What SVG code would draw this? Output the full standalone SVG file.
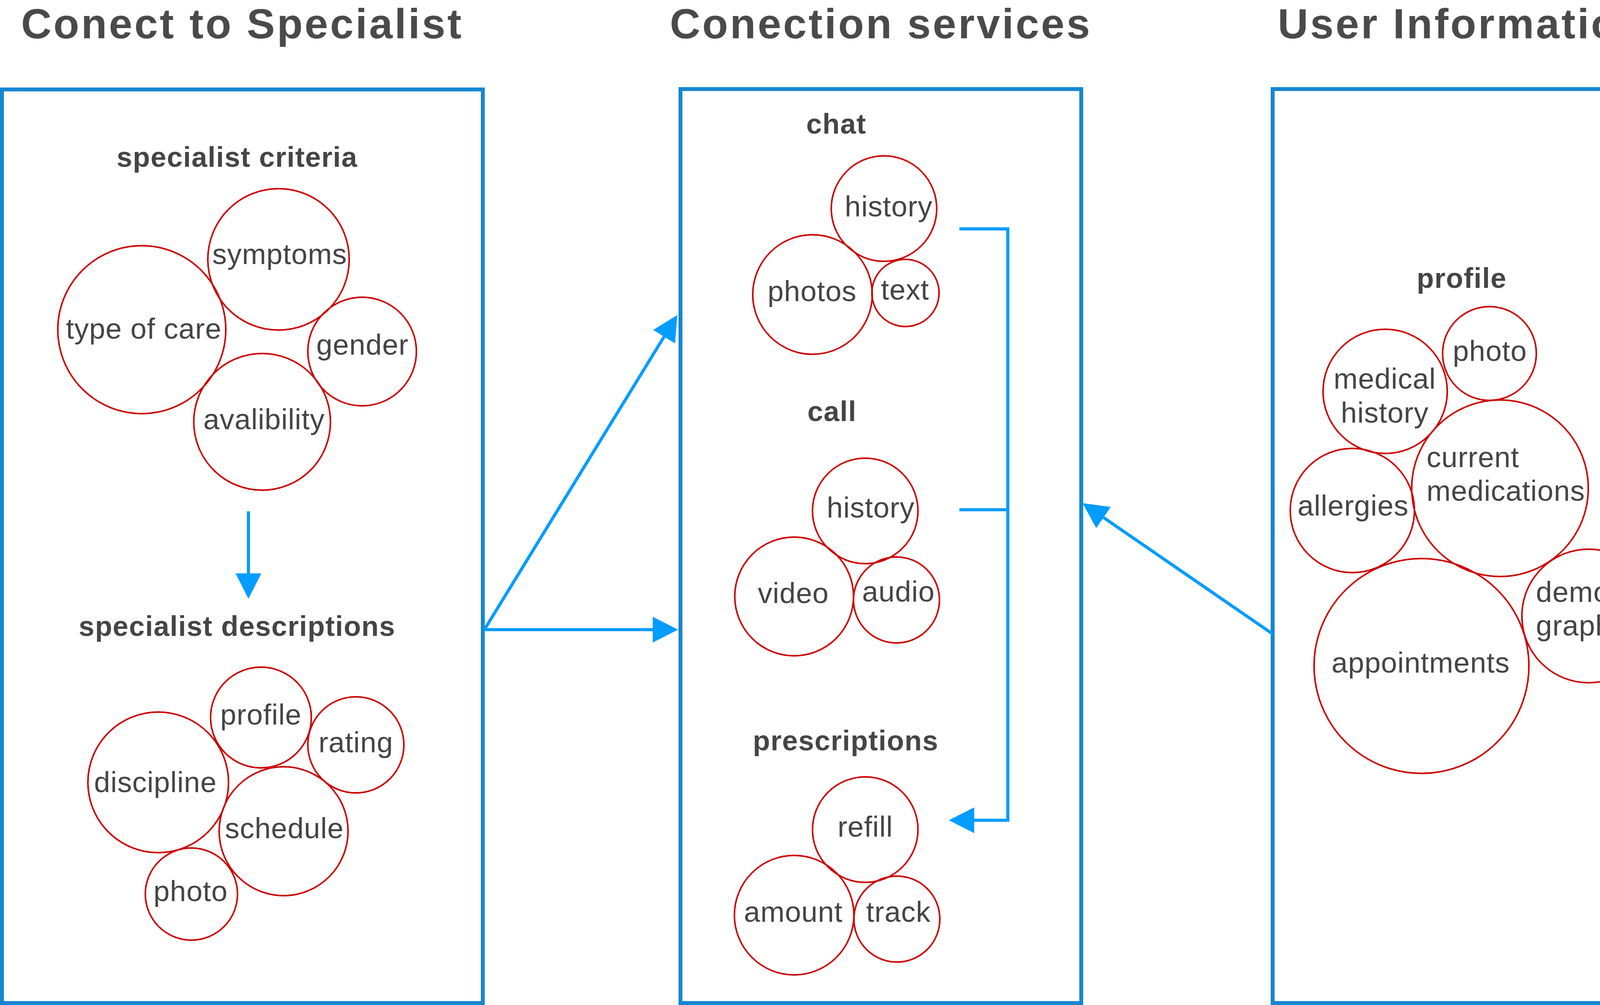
<svg xmlns="http://www.w3.org/2000/svg" width="5899" height="2573" viewBox="0 0 5899 2573">
<style>
.box{fill:none;stroke:#1586d1;stroke-width:10}
.ring{fill:none;stroke:#1586d1;stroke-width:10}
.c{fill:none;stroke:#cc0000;stroke-width:4}
text{font-family:"Liberation Sans",Arial,Helvetica,sans-serif;fill:#454545;text-anchor:middle}
.t{font-size:74px;letter-spacing:1px}
.l{text-anchor:start}
.h{font-size:72px;font-weight:bold;letter-spacing:1.5px}
.title{font-size:108px;font-weight:bold;letter-spacing:5px;fill:#4a4a4a}
.conn{fill:none;stroke:#039cff;stroke-width:8}
.head{fill:#039cff}
</style>
<defs>
<marker id="arr" markerUnits="userSpaceOnUse" viewBox="0 -33 65 66" refX="0" refY="0" markerWidth="65" markerHeight="66" orient="auto">
<path class="head" d="M0,-33 L65,0 L0,33 Z"/>
</marker>
</defs>
<rect width="5899" height="2573" fill="#ffffff"/>

<g id="titles">
<text class="title" x="620" y="98">Conect to Specialist</text>
<text class="title" x="2255" y="98">Conection services</text>
<text class="title" x="3743" y="98">User Information</text>
<text class="title" x="5293" y="98">options</text>
</g>

<g id="specialist-box">
<rect class="box" x="5" y="229" width="1231" height="2339"/>
<text class="h" x="607" y="427">specialist criteria</text>
<text class="h" x="607" y="1628">specialist descriptions</text>
</g>
<g id="n-symptoms"><circle class="c" cx="713" cy="664" r="181"/><text class="t" x="716" y="676">symptoms</text></g>
<g id="n-typeofcare"><circle class="c" cx="363" cy="844" r="215"/><text class="t" x="368" y="867">type of care</text></g>
<g id="n-gender"><circle class="c" cx="927" cy="900" r="139"/><text class="t" x="928" y="908">gender</text></g>
<g id="n-avalibility"><circle class="c" cx="671" cy="1080" r="175"/><text class="t" x="676" y="1099">avalibility</text></g>
<g id="n-profile"><circle class="c" cx="668" cy="1837" r="129"/><text class="t" x="668" y="1855">profile</text></g>
<g id="n-rating"><circle class="c" cx="911" cy="1907" r="123"/><text class="t" x="911" y="1926">rating</text></g>
<g id="n-discipline"><circle class="c" cx="405" cy="2003" r="180"/><text class="t" x="398" y="2028">discipline</text></g>
<g id="n-schedule"><circle class="c" cx="726" cy="2128" r="165"/><text class="t" x="728" y="2146">schedule</text></g>
<g id="n-photo1"><circle class="c" cx="490" cy="2289" r="118"/><text class="t" x="488" y="2307">photo</text></g>

<g id="services-box">
<rect class="box" x="1742" y="228" width="1026" height="2340"/>
<text class="h" x="2141" y="342">chat</text>
<text class="h" x="2130" y="1078">call</text>
<text class="h" x="2165" y="1921">prescriptions</text>
</g>
<g id="n-chathistory"><circle class="c" cx="2263" cy="534" r="135"/><text class="t" x="2275" y="554">history</text></g>
<g id="n-photos"><circle class="c" cx="2080" cy="754" r="153"/><text class="t" x="2079" y="771">photos</text></g>
<g id="n-text"><circle class="c" cx="2318" cy="750" r="86"/><text class="t" x="2317" y="767">text</text></g>
<g id="n-callhistory"><circle class="c" cx="2215" cy="1308" r="135"/><text class="t" x="2229" y="1325">history</text></g>
<g id="n-video"><circle class="c" cx="2033" cy="1527" r="152"/><text class="t" x="2031" y="1544">video</text></g>
<g id="n-audio"><circle class="c" cx="2295" cy="1536" r="110"/><text class="t" x="2300" y="1540">audio</text></g>
<g id="n-refill"><circle class="c" cx="2215" cy="2124" r="135"/><text class="t" x="2215" y="2142">refill</text></g>
<g id="n-amount"><circle class="c" cx="2033" cy="2343" r="153"/><text class="t" x="2031" y="2360">amount</text></g>
<g id="n-track"><circle class="c" cx="2296" cy="2353" r="110"/><text class="t" x="2300" y="2360">track</text></g>

<g id="user-box">
<rect class="box" x="3258" y="228" width="1026" height="2340"/>
<text class="h" x="3742" y="737">profile</text>
</g>
<g id="n-photo2"><circle class="c" cx="3813" cy="905" r="120"/><text class="t" x="3814" y="924">photo</text></g>
<g id="n-medicalhistory"><circle class="c" cx="3546" cy="1002" r="159"/><text class="t" x="3545" y="995">medical</text><text class="t" x="3545" y="1082">history</text></g>
<g id="n-currentmedications"><circle class="c" cx="3840" cy="1250" r="226"/><text class="t l" x="3652" y="1196">current</text><text class="t l" x="3652" y="1282">medications</text></g>
<g id="n-allergies"><circle class="c" cx="3462" cy="1307" r="159"/><text class="t" x="3464" y="1320">allergies</text></g>
<g id="n-appointments"><circle class="c" cx="3639" cy="1705" r="275"/><text class="t" x="3637" y="1722">appointments</text></g>
<g id="n-demographics"><circle class="c" cx="4067" cy="1577" r="171"/><text class="t l" x="3932" y="1541">demo-</text><text class="t l" x="3932" y="1627">graphics</text></g>

<g id="options-ring">
<circle class="ring" cx="5281" cy="1044" r="613"/>
</g>
<g id="n-notifications"><circle class="c" cx="5280" cy="790" r="228"/><text class="t" x="5278" y="812">notifications</text></g>
<g id="n-payment"><circle class="c" cx="4905" cy="922" r="171"/><text class="t" x="4902" y="941">payment</text></g>
<g id="n-emergency"><circle class="c" cx="5153" cy="1195" r="198"/><text class="t" x="5151" y="1220">emergency</text></g>
<g id="n-techsupport"><circle class="c" cx="5580" cy="1138" r="227"/><text class="t" x="5582" y="1155">tech support</text></g>

<g id="connectors">
<line class="conn" x1="636" y1="1309" x2="636" y2="1468" marker-end="url(#arr)"/>
<line class="conn" x1="1240" y1="1612" x2="1671" y2="1612" marker-end="url(#arr)"/>
<line class="conn" x1="1240" y1="1612" x2="1700" y2="862" marker-end="url(#arr)"/>
<line class="conn" x1="3258" y1="1623" x2="2825" y2="1325" marker-end="url(#arr)"/>
<polyline class="conn" points="2456,586 2580,586 2580,2100 2494,2100" marker-end="url(#arr)"/>
<line class="conn" x1="2456" y1="1305" x2="2580" y2="1305"/>
</g>
</svg>
